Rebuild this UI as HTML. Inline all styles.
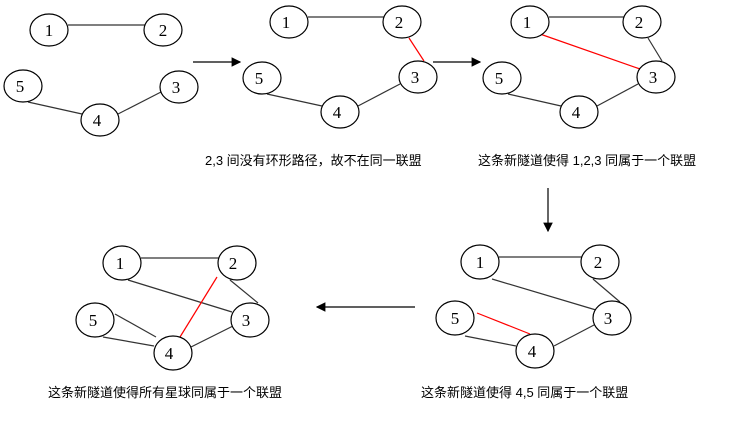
<!DOCTYPE html>
<html><head><meta charset="utf-8"><style>
body{margin:0;background:#fff;width:737px;height:430px;overflow:hidden}
svg text{font-family:"Liberation Serif","Noto Serif CJK SC",serif}
.n{font-size:17px;text-anchor:middle}
.c{font-family:"Liberation Sans","Noto Sans CJK SC",sans-serif !important;font-size:13px}
</style></head><body>
<svg width="737" height="430" xmlns="http://www.w3.org/2000/svg">
<defs><marker id="a" markerWidth="8" markerHeight="8" refX="7" refY="4" orient="auto"><path d="M0,0 L8,4 L0,8 z" fill="#000"/></marker></defs>
<g stroke="#333" stroke-width="1.2" fill="none">
<!-- panel1 -->
<line x1="68" y1="25" x2="146" y2="25"/><line x1="28" y1="102" x2="82" y2="114"/><line x1="118" y1="114" x2="161" y2="92"/>
<!-- panel2 -->
<line x1="308" y1="17" x2="385" y2="17"/><line x1="267" y1="94" x2="322" y2="106"/><line x1="358" y1="106" x2="400" y2="84"/>
<!-- panel3 -->
<line x1="549" y1="17" x2="625" y2="17"/><line x1="508" y1="94" x2="561" y2="106"/><line x1="597" y1="106" x2="638" y2="84"/><line x1="648" y1="38" x2="662" y2="61"/>
<!-- panel4 -->
<line x1="499" y1="257" x2="583" y2="257"/><line x1="492" y1="279" x2="596" y2="310"/><line x1="593" y1="279" x2="620" y2="302"/><line x1="465" y1="336" x2="516" y2="346"/><line x1="554" y1="346" x2="594" y2="325"/>
<!-- panel5 -->
<line x1="141" y1="258" x2="220" y2="258"/><line x1="128" y1="280" x2="232" y2="312"/><line x1="230" y1="280" x2="258" y2="303"/><line x1="115" y1="314" x2="156" y2="337"/><line x1="103" y1="337" x2="154" y2="346"/><line x1="191" y1="347" x2="233" y2="326"/>
</g>
<g stroke="#f00" stroke-width="1.2">
<line x1="409" y1="38" x2="424" y2="61"/>
<line x1="540" y1="34" x2="640" y2="69"/>
<line x1="477" y1="313" x2="530" y2="334"/>
<line x1="217" y1="277" x2="180" y2="337"/>
</g>
<g stroke="#000" stroke-width="1.2" fill="#fff">
<ellipse cx="49" cy="30" rx="19" ry="16"/><ellipse cx="163" cy="30" rx="19" ry="16"/><ellipse cx="23" cy="86" rx="19" ry="16"/><ellipse cx="100" cy="120" rx="19" ry="16"/><ellipse cx="179" cy="87" rx="19" ry="16"/>
<ellipse cx="289" cy="22" rx="19" ry="16"/><ellipse cx="402" cy="22" rx="19" ry="16"/><ellipse cx="262" cy="78" rx="19" ry="16"/><ellipse cx="340" cy="112" rx="19" ry="16"/><ellipse cx="418" cy="77" rx="19" ry="16"/>
<ellipse cx="530" cy="22" rx="19" ry="16"/><ellipse cx="642" cy="22" rx="19" ry="16"/><ellipse cx="502" cy="78" rx="19" ry="16"/><ellipse cx="579" cy="112" rx="19" ry="16"/><ellipse cx="656" cy="77" rx="19" ry="16"/>
<ellipse cx="480" cy="262" rx="19" ry="17"/><ellipse cx="600" cy="262" rx="19" ry="17"/><ellipse cx="455" cy="318" rx="19" ry="17"/><ellipse cx="535" cy="351" rx="19" ry="17"/><ellipse cx="612" cy="318" rx="19" ry="17"/>
<ellipse cx="122" cy="263" rx="19" ry="17"/><ellipse cx="237" cy="263" rx="19" ry="17"/><ellipse cx="95" cy="320" rx="19" ry="17"/><ellipse cx="173" cy="353" rx="19" ry="17"/><ellipse cx="250" cy="320" rx="19" ry="17"/>
</g>
<g class="n">
<text x="49" y="36" class="n">1</text><text x="163" y="36" class="n">2</text><text x="20" y="92" class="n">5</text><text x="97" y="126" class="n">4</text><text x="176" y="93" class="n">3</text>
<text x="286" y="28" class="n">1</text><text x="399" y="28" class="n">2</text><text x="259" y="84" class="n">5</text><text x="337" y="118" class="n">4</text><text x="415" y="83" class="n">3</text>
<text x="527" y="28" class="n">1</text><text x="639" y="28" class="n">2</text><text x="499" y="84" class="n">5</text><text x="576" y="118" class="n">4</text><text x="653" y="83" class="n">3</text>
<text x="480" y="268" class="n">1</text><text x="598" y="268" class="n">2</text><text x="455" y="324" class="n">5</text><text x="532" y="357" class="n">4</text><text x="608" y="324" class="n">3</text>
<text x="120" y="269" class="n">1</text><text x="233" y="269" class="n">2</text><text x="93" y="326" class="n">5</text><text x="169" y="359" class="n">4</text><text x="246" y="326" class="n">3</text>
</g>
<g stroke="#000" stroke-width="1.2">
<line x1="193" y1="62" x2="240" y2="62" marker-end="url(#a)"/>
<line x1="433" y1="62" x2="480" y2="62" marker-end="url(#a)"/>
<line x1="548" y1="188" x2="548" y2="231" marker-end="url(#a)"/>
<line x1="415" y1="307" x2="317" y2="307" marker-end="url(#a)"/>
</g>
<text class="c" x="205" y="165">2,3 间没有环形路径，故不在同一联盟</text>
<text class="c" x="478" y="165">这条新隧道使得 1,2,3 同属于一个联盟</text>
<text class="c" x="48" y="397">这条新隧道使得所有星球同属于一个联盟</text>
<text class="c" x="421" y="397">这条新隧道使得 4,5 同属于一个联盟</text>
</svg>
</body></html>
